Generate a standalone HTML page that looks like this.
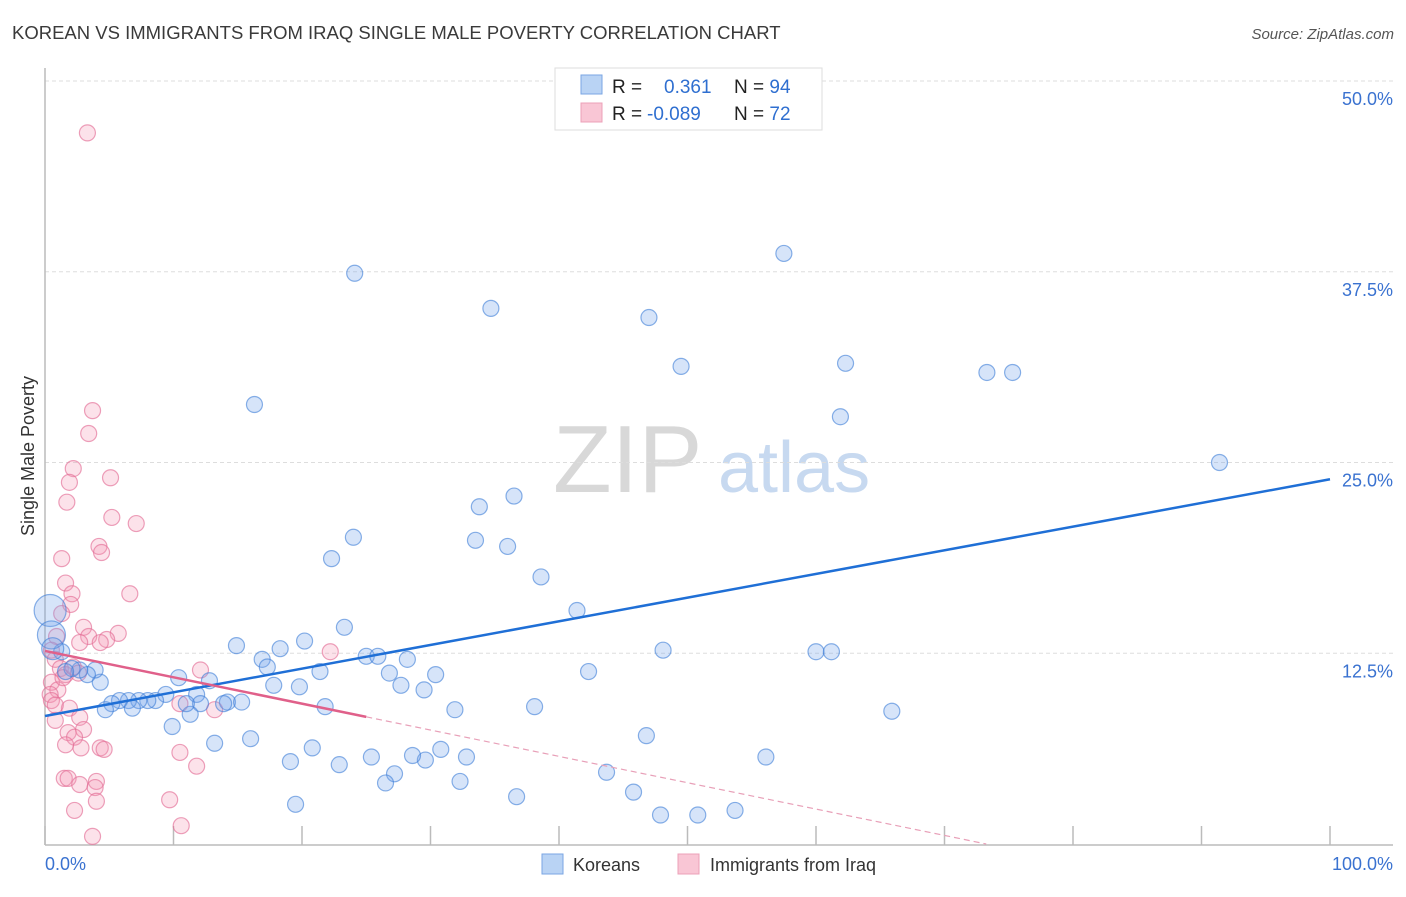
<!DOCTYPE html>
<html><head><meta charset="utf-8"><style>
body{margin:0;background:#fff;font-family:"Liberation Sans",sans-serif;}
svg text{font-family:"Liberation Sans",sans-serif;}
</style></head><body>
<svg id="chart" width="1406" height="892" viewBox="0 0 1406 892">
<text x="12" y="39" font-size="18.5" fill="#3a3a3a">KOREAN VS IMMIGRANTS FROM IRAQ SINGLE MALE POVERTY CORRELATION CHART</text>
<text x="1394" y="39" font-size="15" fill="#555" font-style="italic" text-anchor="end">Source: ZipAtlas.com</text>
<g>
<text x="553" y="492" font-size="96" fill="#d8d8d8" font-family="Liberation Serif,serif">ZIP</text>
<text x="718" y="492" font-size="72" fill="#c7d9f0">atlas</text>
</g>
<g id="grid"></g>
<g id="axes"></g>
<g id="marks"></g>
<text transform="translate(34,456) rotate(-90)" font-size="18" fill="#333" text-anchor="middle">Single Male Poverty</text>
<g>
<rect x="555" y="68" width="267" height="62" fill="#fff" stroke="#ddd"/>
<rect x="581" y="75" width="21" height="19" fill="#b9d3f4" stroke="#7aa6e3"/>
<rect x="581" y="103" width="21" height="19" fill="#f9c6d5" stroke="#eca0b8"/>
<text x="612" y="93" font-size="19" fill="#222">R = <tspan x="664" fill="#2f6fd0">0.361</tspan><tspan x="734" fill="#222">N = </tspan><tspan fill="#2f6fd0">94</tspan></text>
<text x="612" y="120" font-size="19" fill="#222">R = <tspan x="647" fill="#2f6fd0">-0.089</tspan><tspan x="734" fill="#222">N = </tspan><tspan fill="#2f6fd0">72</tspan></text>
</g>
<g>
<rect x="542" y="854" width="21" height="20" fill="#b9d3f4" stroke="#7aa6e3"/>
<text x="573" y="871" font-size="18" fill="#333">Koreans</text>
<rect x="678" y="854" width="21" height="20" fill="#f9c6d5" stroke="#eca0b8"/>
<text x="710" y="871" font-size="18" fill="#333">Immigrants from Iraq</text>
</g>
</svg>
<script>
const yTicks=[12.5,25,37.5,50];
const yTickLabels=["12.5%","25.0%","37.5%","50.0%"];
const xTicks=[0,10,20,30,40,50,60,70,80,90,100];
const xEndLabels=["0.0%","100.0%"];
const koreansX=[16.3,24.1,34.7,47.0,49.5,57.5,62.3,73.3,75.3,61.9,91.4,33.8,36.5,24.0,22.3,33.5,36.0,38.6,41.4,23.3,14.9,18.3,20.2,16.9,17.3,21.4,25.0,25.9,26.8,28.2,27.7,29.5,30.4,31.9,38.1,42.3,48.1,60.0,61.2,65.9,46.8,56.1,43.7,45.8,47.9,50.8,53.7,36.7,32.3,32.8,30.8,29.6,28.6,27.2,26.5,25.4,22.9,20.8,19.1,19.5,16.0,13.2,9.9,10.4,9.4,12.8,11.8,12.1,11.3,14.2,15.3,13.9,11.0,8.6,8.0,7.3,6.5,5.8,5.2,4.7,6.8,4.3,3.9,3.3,2.7,2.1,1.6,1.3,17.8,19.8,21.8,0.4,0.5,0.6];
const koreansY=[28.8,37.4,35.1,34.5,31.3,38.7,31.5,30.9,30.9,28.0,25.0,22.1,22.8,20.1,18.7,19.9,19.5,17.5,15.3,14.2,13.0,12.8,13.3,12.1,11.6,11.3,12.3,12.3,11.2,12.1,10.4,10.1,11.1,8.8,9.0,11.3,12.7,12.6,12.6,8.7,7.1,5.7,4.7,3.4,1.9,1.9,2.2,3.1,4.1,5.7,6.2,5.5,5.8,4.6,4.0,5.7,5.2,6.3,5.4,2.6,6.9,6.6,7.7,10.9,9.8,10.7,9.8,9.2,8.5,9.3,9.3,9.2,9.2,9.4,9.4,9.4,9.4,9.4,9.2,8.8,8.9,10.6,11.4,11.1,11.4,11.5,11.3,12.6,10.4,10.3,9.0,15.3,13.7,12.8];
const koreansR=[8,8,8,8,8,8,8,8,8,8,8,8,8,8,8,8,8,8,8,8,8,8,8,8,8,8,8,8,8,8,8,8,8,8,8,8,8,8,8,8,8,8,8,8,8,8,8,8,8,8,8,8,8,8,8,8,8,8,8,8,8,8,8,8,8,8,8,8,8,8,8,8,8,8,8,8,8,8,8,8,8,8,8,8,8,8,8,8,8,8,8,16,14,11];
const iraqX=[3.3,3.7,3.4,2.2,1.9,1.7,5.1,5.2,7.1,4.2,4.4,1.3,1.6,2.1,6.6,2.0,1.3,3.0,5.7,3.4,4.8,2.7,4.3,0.9,0.5,0.8,1.2,1.6,0.5,1.0,0.4,1.4,2.2,2.6,0.8,1.9,2.7,3.0,1.8,2.3,2.8,1.6,4.3,4.6,10.5,11.8,12.1,13.2,22.2,10.5,1.5,1.8,4.0,3.9,4.0,2.7,2.3,9.7,10.6,3.7,0.5,0.8];
const iraqY=[46.6,28.4,26.9,24.6,23.7,22.4,24.0,21.4,21.0,19.5,19.1,18.7,17.1,16.4,16.4,15.7,15.1,14.2,13.8,13.6,13.4,13.2,13.2,13.6,12.7,12.1,11.5,11.1,10.6,10.1,9.8,10.9,11.6,11.2,8.1,8.9,8.3,7.5,7.3,7.0,6.3,6.5,6.3,6.2,6.0,5.1,11.4,8.8,12.6,9.2,4.3,4.3,4.1,3.7,2.8,3.9,2.2,2.9,1.2,0.5,9.4,9.1];
const koreansTrend=[8.39,23.9];
const iraqTrend=[12.65,-0.1727];
const iraqSolidEnd=25;

const X0=45,X1=1330,YB=844,PXPER=15.26;
const xs=v=>X0+(X1-X0)*v/100;
const ys=v=>YB-v*PXPER;
const NS="http://www.w3.org/2000/svg";
function mk(tag,attrs,parent){const e=document.createElementNS(NS,tag);for(const k in attrs)e.setAttribute(k,attrs[k]);parent.appendChild(e);return e;}
const grid=document.getElementById('grid'),axes=document.getElementById('axes'),marks=document.getElementById('marks');
yTicks.forEach((t,i)=>{
  const l=mk('line',{x1:X0,x2:1393,y1:ys(t),y2:ys(t),stroke:'#ddd','stroke-dasharray':'4,3'},grid);
  
  
  const tx=mk('text',{x:1393,y:ys(t)+24,'font-size':18,fill:'#3a72d0','text-anchor':'end'},grid);
  tx.textContent=yTickLabels[i];
  
  
});
const ya=mk('line',{x1:X0,x2:X0,y1:68,y2:845,stroke:'#bbb','stroke-width':1.5},axes);


const xa=mk('line',{x1:X0,x2:1393,y1:845,y2:845,stroke:'#bbb','stroke-width':1.5},axes);


xTicks.forEach(t=>{
  const l=mk('line',{x1:xs(t),x2:xs(t),y1:826,y2:845,stroke:'#bbb','stroke-width':1.5},axes);
  
  
});
const xl0=mk('text',{x:X0,y:870,'font-size':18,fill:'#3a72d0'},axes);
xl0.textContent=xEndLabels[0];


const xl1=mk('text',{x:1393,y:870,'font-size':18,fill:'#3a72d0','text-anchor':'end'},axes);
xl1.textContent=xEndLabels[1];



iraqX.forEach((x,i)=>{
  const c=mk('circle',{cx:xs(x),cy:ys(iraqY[i]),r:8,fill:'rgba(244,150,180,0.28)',stroke:'rgba(228,110,150,0.65)','stroke-width':1.2},marks);
  
  
});
koreansX.forEach((x,i)=>{
  const c=mk('circle',{cx:xs(x),cy:ys(koreansY[i]),r:koreansR[i],fill:'rgba(120,165,235,0.3)',stroke:'rgba(60,125,215,0.6)','stroke-width':1.2},marks);
  
  
});
const kt=mk('line',{x1:xs(0),y1:ys(koreansTrend[0]),x2:xs(100),y2:ys(koreansTrend[1]),stroke:'#1f6fd6','stroke-width':2.5},marks);


const iy=x=>iraqTrend[0]+iraqTrend[1]*x;
const it=mk('line',{x1:xs(0),y1:ys(iy(0)),x2:xs(iraqSolidEnd),y2:ys(iy(iraqSolidEnd)),stroke:'#e0608a','stroke-width':2.5},marks);


const xz=-iraqTrend[0]/iraqTrend[1];
const id=mk('line',{x1:xs(iraqSolidEnd),y1:ys(iy(iraqSolidEnd)),x2:xs(xz),y2:ys(0),stroke:'#e8a0b8','stroke-width':1.2,'stroke-dasharray':'6,4'},marks);


</script>
</body></html>
